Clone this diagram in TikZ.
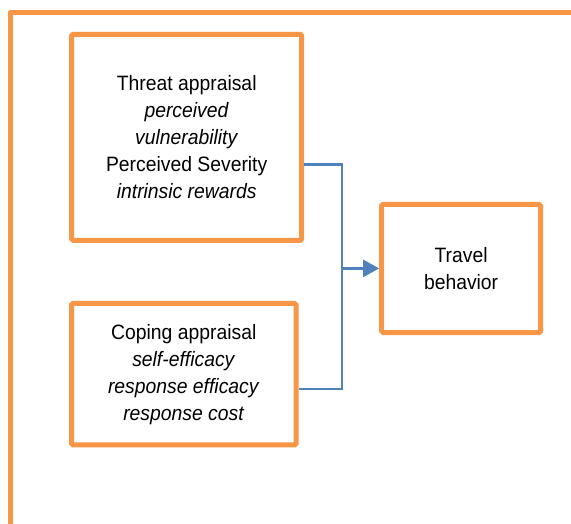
\documentclass[tikz,border=0pt]{standalone}
\usepackage{fontspec}
\setmainfont{Liberation Sans}[FakeStretch=0.93]
\usetikzlibrary{arrows.meta}
\definecolor{frameorange}{HTML}{F79646}
\definecolor{connblue}{HTML}{4F81BD}
\tikzset{
  box/.style={draw=frameorange, line width=5pt, rounded corners=1.5pt, align=center,
    inner sep=0pt, font=\fontsize{20.8}{27}\selectfont},
  conn/.style={draw=connblue, line width=2.2pt},
}
\begin{document}
\begin{tikzpicture}[x=1pt,y=-1pt]
\useasboundingbox (0,0) rectangle (571,523);
\draw[frameorange, line width=5pt, line join=round] (10,530) -- (10,12.5) -- (580,12.5);
\node[box, minimum width=230pt, minimum height=206pt] (threat) at (186.7,137.3)
  {Threat appraisal\\ \textit{perceived}\\ \textit{vulnerability}\\ Perceived Severity\\ \textit{intrinsic rewards}};
\node[box, minimum width=224.5pt, minimum height=141.5pt] (coping) at (183.8,374.2)
  {Coping appraisal\\ \textit{self-efficacy}\\ \textit{response efficacy}\\ \textit{response cost}};
\node[box, minimum width=158.8pt, minimum height=128.2pt] (travel) at (461.1,268.4)
  {Travel\\ behavior};
\coordinate (jn) at (342,268.4);
\draw[conn] ([yshift=-27.2pt]threat.east) -| (jn) |- ([yshift=-15pt]coping.east);
\draw[conn, -{Triangle[length=16pt, width=17pt]}] (jn) -- (travel.west);
\end{tikzpicture}
\end{document}
